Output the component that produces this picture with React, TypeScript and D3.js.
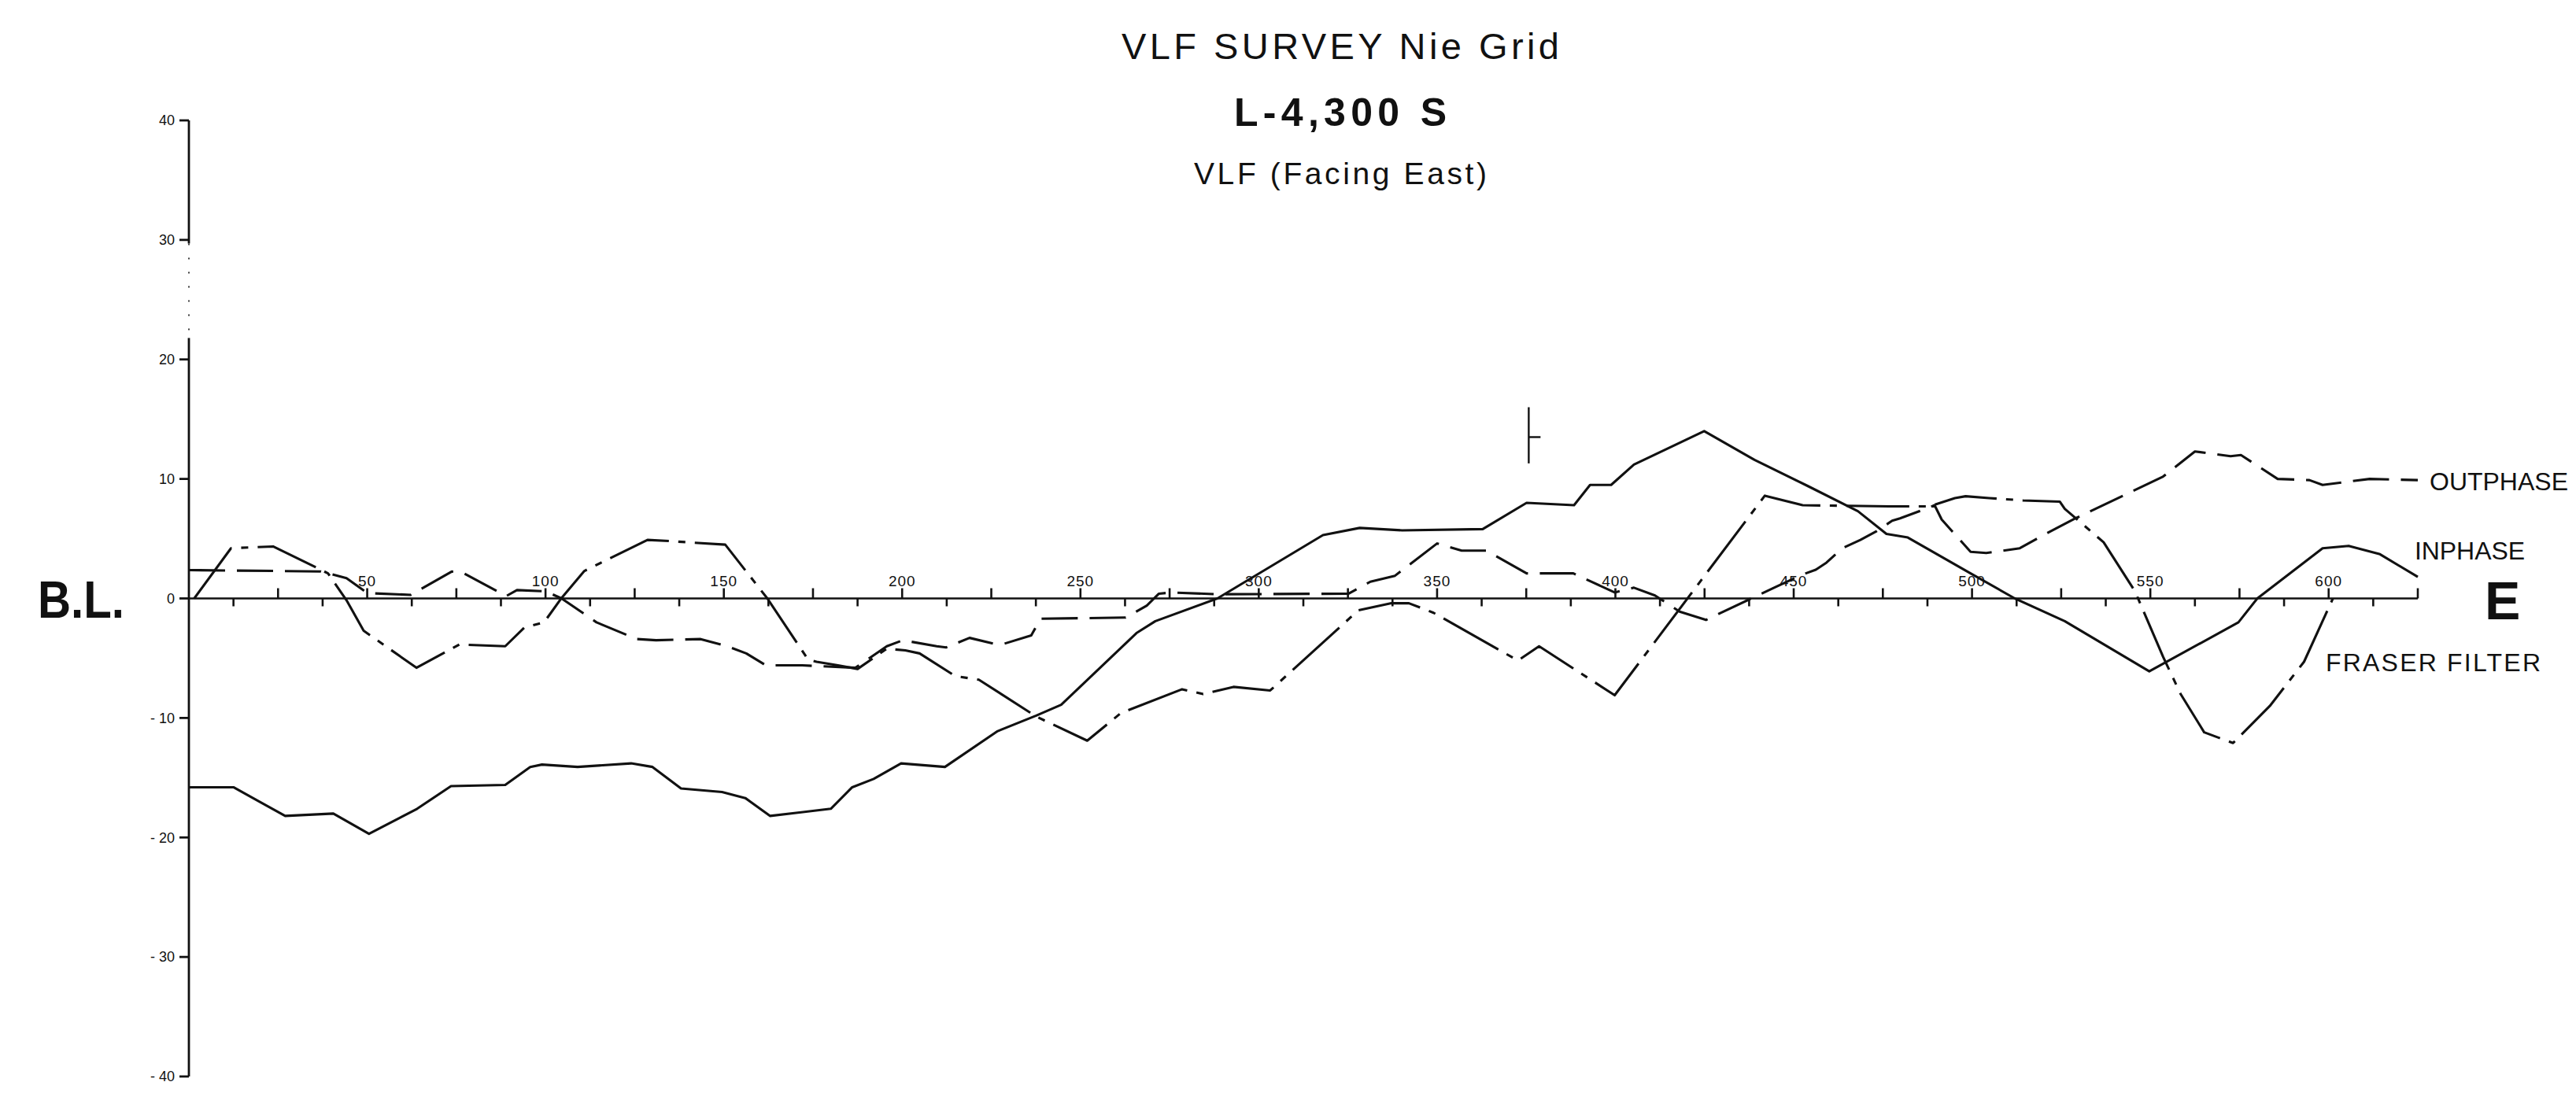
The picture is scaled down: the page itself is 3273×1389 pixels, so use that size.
import React from "react";
import * as d3 from "d3";

// Canvas size
const WIDTH = 3273;
const HEIGHT = 1389;

// Axis ticks
const yTickValues = [40, 30, 20, 10, 0, -10, -20, -30, -40];
const xLabelValues = [50, 100, 150, 200, 250, 300, 350, 400, 450, 500, 550, 600];
const stationStep = 12.5;
const lineEnd = 625;

// In-phase profile (station, %)
const inphaseStations = [
  0, 12.5, 27, 40.5, 50.5, 64, 73.5, 88.7, 95.7, 99, 109, 124, 130, 138, 149.5, 156, 163, 180,
  186, 192, 199.7, 212, 226.8, 237.6, 244.6, 265.7, 271, 288.4, 318, 328.3, 340.2, 362.8, 375.1,
  388.4, 392.9, 398.8, 405.2, 424.9, 439, 454, 468, 476, 482, 499, 512, 526, 549.7, 574.7, 580,
  598.3, 605.6, 614.4, 625,
];
const inphaseValues = [
  -15.8, -15.8, -18.2, -18.0, -19.7, -17.6, -15.7, -15.6, -14.1, -13.9, -14.1, -13.8, -14.1, -15.9,
  -16.2, -16.7, -18.2, -17.6, -15.8, -15.1, -13.8, -14.1, -11.1, -9.8, -8.9, -2.9, -1.9, 0, 5.3,
  5.9, 5.7, 5.8, 8.0, 7.8, 9.5, 9.5, 11.2, 14.0, 11.6, 9.4, 7.3, 5.4, 5.1, 2.2, 0, -1.9, -6.1, -2.0,
  0, 4.2, 4.4, 3.7, 1.8,
];

// Out-phase profile (station, %)
const outphaseStations = [
  0, 37, 44.2, 50, 62.2, 73.7, 76.5, 89, 92, 100, 104.5, 114.3, 125.6, 131, 143.5, 151, 156.3,
  161.8, 172, 186.9, 195.7, 200.2, 209.7, 212.3, 218.9, 225.9, 228.5, 236.2, 238.8, 262.7, 268.6,
  272, 275.5, 288.4, 325.2, 331.3, 338.2, 350, 356.9, 363.8, 375.1, 388.2, 399.8, 405.2, 411.1,
  418, 425.4, 437.4, 445.2, 452.5, 456.2, 459.2, 463.6, 468.7, 473.1, 477.6, 479.8, 487.9, 489.5,
  491.5, 494.5, 499.6, 504, 513.4, 520, 529, 553.6, 562.5, 572.5, 575.4, 585.7, 594.6, 598.3,
  611.5, 625,
];
const outphaseValues = [
  2.37, 2.26, 1.7, 0.45, 0.3, 2.25, 2.2, 0.2, 0.7, 0.6, 0, -2.0, -3.4, -3.5, -3.4, -4.0, -4.6, -5.6,
  -5.6, -5.8, -4.0, -3.5, -4.0, -4.1, -3.3, -3.8, -3.8, -3.1, -1.7, -1.6, -0.6, 0.4, 0.5, 0.35, 0.4,
  1.4, 1.9, 4.6, 4.0, 4.0, 2.1, 2.1, 0.5, 0.9, 0.25, -1.1, -1.8, -0.1, 1.0, 2.0, 2.4, 3.0, 4.2, 4.9,
  5.6, 6.5, 6.7, 7.6, 7.8, 6.6, 5.6, 3.9, 3.8, 4.2, 5.3, 6.7, 10.2, 12.3, 11.9, 12.0, 10.0, 9.9,
  9.5, 10.0, 9.9,
];

// Fraser filter of the in-phase data (station, value)
const fraserStations = [
  1.5, 11.8, 23.6, 37, 39, 44.2, 49, 63.8, 75.9, 88.7, 94, 99.6, 104.4, 110.9, 128.6, 134.7, 150.4,
  162.2, 173.6, 176, 182, 187.5, 195.7, 200.9, 204.9, 214.9, 221.5, 237.7, 251.9, 261.3, 278.5,
  284.4, 292.9, 303.2, 327.9, 337.2, 342.1, 349, 372.7, 378.6, 399.8, 441.9, 452.5, 476.8, 488,
  495.2, 498.2, 504.8, 514.3, 524.6, 526, 536.9, 545.7, 553.6, 558.5, 565.1, 573.2, 583.5, 593.1,
  601.2,
];
const fraserValues = [
  0, 4.2, 4.35, 2.4, 2.1, -0.15, -2.7, -5.8, -3.85, -4.0, -2.45, -2.0, 0, 2.3, 4.9, 4.8, 4.5, 0,
  -5.1, -5.3, -5.6, -5.9, -4.2, -4.35, -4.6, -6.5, -6.8, -9.9, -11.9, -9.6, -7.6, -8.0, -7.4, -7.7,
  -1.0, -0.4, -0.4, -1.2, -5.2, -4.0, -8.1, 8.6, 7.8, 7.7, 7.7, 8.4, 8.55, 8.4, 8.2, 8.1, 7.5, 4.7,
  0.6, -4.9, -8.0, -11.2, -12.1, -9.0, -5.3, 0,
];

// Conductor axis marker
const markerStation = 375.7;
const markerTop = 16.0;
const markerBottom = 11.3;
const markerTickLevel = 13.5;

const FONT = "'Liberation Sans', Arial, Helvetica, sans-serif";
const INK = "#111";

export default function App() {
  const x = d3.scaleLinear().domain([0, lineEnd]).range([240, 3072]);
  const y = d3.scaleLinear().domain([-40, 40]).range([1368, 153]);

  const line = d3
    .line<[number, number]>()
    .x((d) => x(d[0]))
    .y((d) => y(d[1]));

  const pairs = (s: number[], v: number[]) => s.map((st, i) => [st, v[i]] as [number, number]);

  const series = [
    { key: "inphase", d: line(pairs(inphaseStations, inphaseValues)), dash: undefined },
    { key: "outphase", d: line(pairs(outphaseStations, outphaseValues)), dash: "46 15" },
    { key: "fraser", d: line(pairs(fraserStations, fraserValues)), dash: "80 12 9 12" },
  ];

  const y0 = y(0);
  const stations = d3.range(stationStep, lineEnd + 0.01, stationStep);

  return (
    <svg
      width={WIDTH}
      height={HEIGHT}
      viewBox={`0 0 ${WIDTH} ${HEIGHT}`}
      style={{ position: "absolute", left: 0, top: 0, background: "#fff" }}
    >
      <rect x={0} y={0} width={WIDTH} height={HEIGHT} fill="#fff" />

      {/* Titles */}
      <text x={1425} y={75} fontFamily={FONT} fontSize={47} fill={INK} textLength={556} lengthAdjust="spacing">
        VLF SURVEY Nie Grid
      </text>
      <text x={1568} y={160} fontFamily={FONT} fontSize={50} fontWeight="bold" fill={INK} textLength={270} lengthAdjust="spacing">
        L-4,300 S
      </text>
      <text x={1517} y={234} fontFamily={FONT} fontSize={39} fill={INK} textLength={372} lengthAdjust="spacing">
        VLF (Facing East)
      </text>

      {/* Vertical axis */}
      <g stroke={INK} strokeWidth={2.8} fill="none">
        <line x1={x(0)} x2={x(0)} y1={y(40)} y2={y(29.7)} />
        <line x1={x(0)} x2={x(0)} y1={y(29.7)} y2={y(21.8)} strokeDasharray="2 16" strokeWidth={1.6} />
        <line x1={x(0)} x2={x(0)} y1={y(21.8)} y2={y(-40)} />
        {yTickValues.map((v) => (
          <line key={v} x1={x(0) - 12} x2={x(0)} y1={y(v)} y2={y(v)} />
        ))}
      </g>
      {yTickValues.map((v) => (
        <text
          key={v}
          x={222}
          y={y(v)}
          dy="0.35em"
          textAnchor="end"
          fontFamily={FONT}
          fontSize={18}
          fill={INK}
        >
          {v < 0 ? `- ${Math.abs(v)}` : v}
        </text>
      ))}

      {/* Horizontal base line with station ticks */}
      <g stroke={INK} strokeWidth={2.6} fill="none">
        <line x1={x(0)} x2={x(lineEnd)} y1={y0} y2={y0} />
        {stations.map((s) =>
          s % 25 === 0 ? (
            <line key={s} x1={x(s)} x2={x(s)} y1={y0 - 13} y2={y0} />
          ) : (
            <line key={s} x1={x(s)} x2={x(s)} y1={y0} y2={y0 + 10} />
          )
        )}
      </g>
      {xLabelValues.map((v) => (
        <text
          key={v}
          x={x(v)}
          y={y0 - 16}
          textAnchor="middle"
          fontFamily={FONT}
          fontSize={19}
          letterSpacing={1}
          fill={INK}
        >
          {v}
        </text>
      ))}

      {/* Profiles */}
      {series.map((s) => (
        <path
          key={s.key}
          d={s.d || ""}
          fill="none"
          stroke={INK}
          strokeWidth={3.1}
          strokeLinejoin="round"
          strokeDasharray={s.dash}
        />
      ))}

      {/* Conductor marker */}
      <g stroke={INK} strokeWidth={2.4} fill="none">
        <line x1={x(markerStation)} x2={x(markerStation)} y1={y(markerTop)} y2={y(markerBottom)} />
        <line x1={x(markerStation)} x2={x(markerStation) + 15} y1={y(markerTickLevel)} y2={y(markerTickLevel)} />
      </g>

      {/* End labels */}
      <text x={48} y={785} fontFamily={FONT} fontSize={66} fontWeight="bold" fill={INK} textLength={110} lengthAdjust="spacingAndGlyphs">
        B.L.
      </text>
      <text x={3157} y={787} fontFamily={FONT} fontSize={68} fontWeight="bold" fill={INK}>
        E
      </text>

      {/* Series labels */}
      <text x={3087} y={623} fontFamily={FONT} fontSize={32} fill={INK} textLength={176} lengthAdjust="spacing">
        OUTPHASE
      </text>
      <text x={3068} y={711} fontFamily={FONT} fontSize={32} fill={INK} textLength={140} lengthAdjust="spacing">
        INPHASE
      </text>
      <text x={2955} y={853} fontFamily={FONT} fontSize={32} fill={INK} textLength={273} lengthAdjust="spacing">
        FRASER FILTER
      </text>
    </svg>
  );
}
